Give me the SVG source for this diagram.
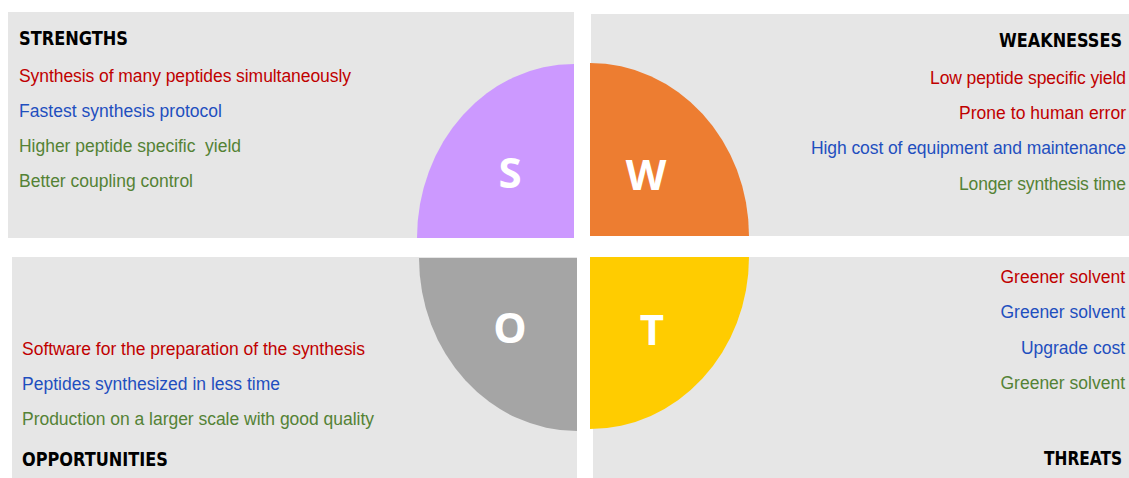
<svg xmlns="http://www.w3.org/2000/svg" width="1129" height="478" viewBox="0 0 1129 478">
<style>
.panel{fill:#E6E6E6}
.hd{font-family:"DejaVu Sans Condensed","Roboto","DejaVu Sans",sans-serif;font-weight:bold;font-size:19px;fill:#000}
.tx{font-family:"Liberation Sans",Arial,sans-serif;font-size:17.5px}
.r{fill:#C00000}
.b{fill:#1F4FBF}
.g{fill:#548235}
.lt{font-family:"Open Sans","DejaVu Sans",sans-serif;font-weight:bold;font-size:42px;fill:#fff;text-anchor:middle}
.e{text-anchor:end}
</style>
<rect width="1129" height="478" fill="#fff"/>
<g id="strengths">
<rect class="panel" x="8" y="12" width="566" height="226"/>
<path d="M574,238 L417,238 A157,174 0 0 1 574,64 Z" fill="#CC99FF"/>
<text class="lt" x="510" y="188">S</text>
<text class="hd" x="19" y="45" textLength="109" lengthAdjust="spacingAndGlyphs">STRENGTHS</text>
<text class="tx r" x="19" y="82" textLength="332" lengthAdjust="spacing">Synthesis of many peptides simultaneously</text>
<text class="tx b" x="19" y="117" textLength="203" lengthAdjust="spacing">Fastest synthesis protocol</text>
<text class="tx g" x="19" y="152" textLength="222" lengthAdjust="spacing" xml:space="preserve">Higher peptide specific  yield</text>
<text class="tx g" x="19" y="187" textLength="174" lengthAdjust="spacing">Better coupling control</text>
</g>
<g id="weaknesses">
<rect class="panel" x="591" y="14" width="538" height="222"/>
<path d="M590,236 L590,63 A159,173 0 0 1 749,236 Z" fill="#ED7D31"/>
<text class="lt" x="646" y="190">W</text>
<text class="hd" x="999" y="47" textLength="123" lengthAdjust="spacingAndGlyphs">WEAKNESSES</text>
<text class="tx r e" x="1126" y="84" textLength="196" lengthAdjust="spacing">Low peptide specific yield</text>
<text class="tx r e" x="1126" y="119" textLength="167" lengthAdjust="spacing">Prone to human error</text>
<text class="tx b e" x="1126" y="154" textLength="315" lengthAdjust="spacing">High cost of equipment and maintenance</text>
<text class="tx g e" x="1126" y="190" textLength="167" lengthAdjust="spacing">Longer synthesis time</text>
</g>
<g id="opportunities">
<rect class="panel" x="12" y="257" width="565" height="221"/>
<path d="M577,258 L577,431 A158,173 0 0 1 419,258 Z" fill="#A5A5A5"/>
<text class="lt" x="510" y="343">O</text>
<text class="tx r" x="22" y="355" textLength="343" lengthAdjust="spacing">Software for the preparation of the synthesis</text>
<text class="tx b" x="22" y="390" textLength="258" lengthAdjust="spacing">Peptides synthesized in less time</text>
<text class="tx g" x="22" y="425" textLength="352" lengthAdjust="spacing">Production on a larger scale with good quality</text>
<text class="hd" x="22" y="466" textLength="146" lengthAdjust="spacingAndGlyphs">OPPORTUNITIES</text>
</g>
<g id="threats">
<rect class="panel" x="593" y="257" width="536" height="221"/>
<path d="M590,257 L749,257 A159,172 0 0 1 590,429 Z" fill="#FFCC00"/>
<text class="lt" x="652" y="345">T</text>
<text class="tx r e" x="1125" y="283">Greener solvent</text>
<text class="tx b e" x="1125" y="318">Greener solvent</text>
<text class="tx b e" x="1125" y="354">Upgrade cost</text>
<text class="tx g e" x="1125" y="389">Greener solvent</text>
<text class="hd" x="1044" y="465" textLength="78" lengthAdjust="spacingAndGlyphs">THREATS</text>
</g>
</svg>
